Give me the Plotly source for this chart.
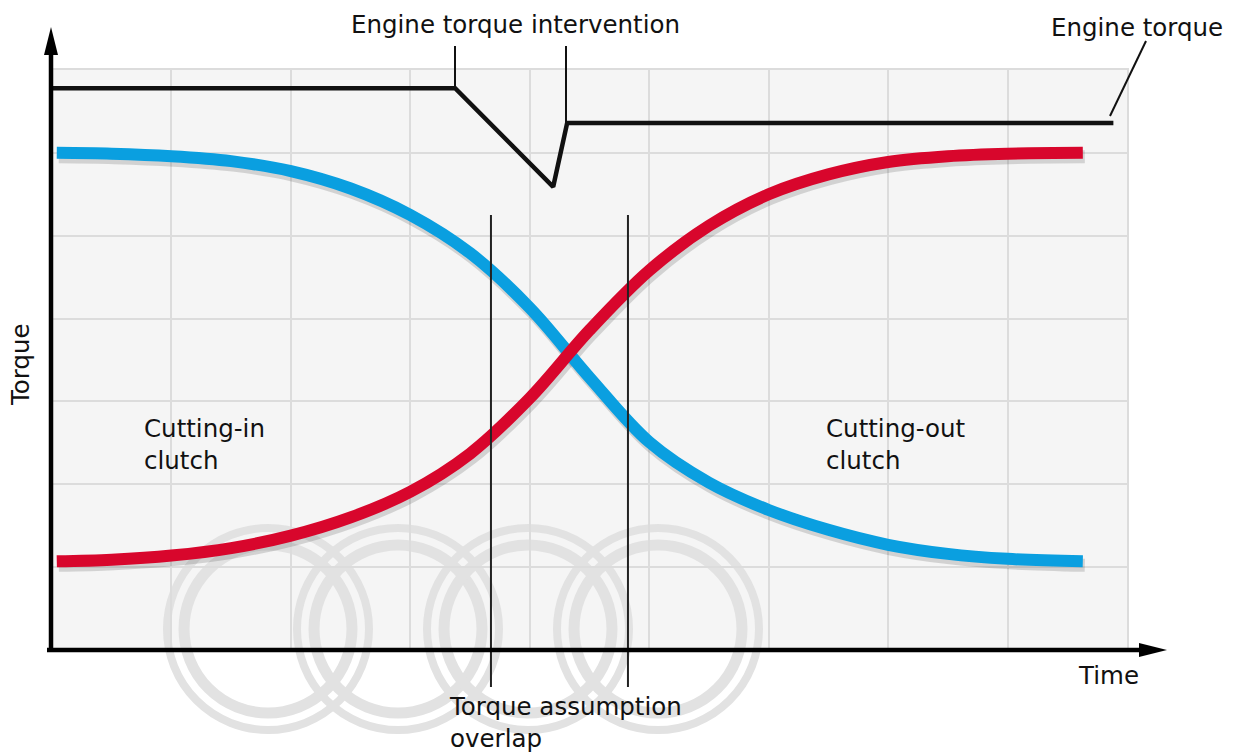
import plotly.graph_objects as go

# Time axis in grid units (9 columns), torque in grid units (7 rows)
time = [0.04, 0.5, 1.0, 1.5, 2.0, 2.5, 3.0, 3.5, 4.0, 4.5, 5.0,
        5.5, 6.0, 6.5, 7.0, 7.5, 8.0, 8.63]
cutting_in = [6.00, 5.99, 5.96, 5.90, 5.78, 5.57, 5.25, 4.79, 4.13, 3.29, 2.51,
              2.02, 1.69, 1.45, 1.27, 1.16, 1.10, 1.07]
cutting_out = [1.07, 1.09, 1.14, 1.23, 1.38, 1.60, 1.91, 2.37, 3.04, 3.86, 4.58,
               5.12, 5.50, 5.74, 5.89, 5.96, 5.99, 6.00]

engine_time = [0.0, 3.375, 4.196, 4.313, 8.886]
engine_torque = [6.78, 6.78, 5.59, 6.36, 6.36]

overlap_start = 3.675
overlap_end = 4.822

X_RANGE = [0, 9]
Y_RANGE = [0, 7]

FONT = "DejaVu Sans"
FS = 24.5
BLUE = "#0a9fe0"
RED = "#d8062c"

# plot area in pixels
L, R, T, B = 52, 110, 70, 102
W, H = 1237, 752
PW, PH = W - L - R, H - T - B


def px(x):
    return (x - L) / PW


def py(y):
    return (H - B - y) / PH


# shadow offset in data units (2 px right, 4 px down)
sdx = 2 * (X_RANGE[1] - X_RANGE[0]) / PW
sdy = -4 * (Y_RANGE[1] - Y_RANGE[0]) / PH

fig = go.Figure()

for series in [cutting_out, cutting_in]:
    fig.add_trace(go.Scatter(
        x=[t + sdx for t in time], y=[v + sdy for v in series],
        mode="lines", line=dict(color="rgba(40,40,40,0.17)", width=13, shape="spline"),
        hoverinfo="skip"))

fig.add_trace(go.Scatter(x=time, y=cutting_in, mode="lines",
                         line=dict(color=BLUE, width=12, shape="spline"),
                         name="Cutting-in clutch"))
fig.add_trace(go.Scatter(x=time, y=cutting_out, mode="lines",
                         line=dict(color=RED, width=12, shape="spline"),
                         name="Cutting-out clutch"))
fig.add_trace(go.Scatter(x=engine_time, y=engine_torque, mode="lines",
                         line=dict(color="#111111", width=4.5),
                         name="Engine torque"))

shapes = []

# watermark rings
for cx in [268, 398, 528, 658]:
    cy = 629
    for r, w in [(101, 8), (84, 11)]:
        shapes.append(dict(type="circle", xref="paper", yref="paper", layer="below",
                           x0=px(cx - r), x1=px(cx + r), y0=py(cy + r), y1=py(cy - r),
                           line=dict(color="#e2e2e2", width=w)))

# torque assumption overlap markers
for t in [overlap_start, overlap_end]:
    shapes.append(dict(type="line", xref="x", yref="paper", x0=t, x1=t,
                       y0=py(687), y1=py(215), line=dict(color="#222222", width=2)))

# leader lines
for (x0, y0, x1, y1) in [(455, 46, 455, 88), (566, 46, 566, 123), (1146, 41, 1110, 116)]:
    shapes.append(dict(type="line", xref="paper", yref="paper",
                       x0=px(x0), y0=py(y0), x1=px(x1), y1=py(y1),
                       line=dict(color="#111111", width=2)))

# axes with arrowheads
shapes.append(dict(type="line", xref="paper", yref="paper", x0=px(51), x1=px(51),
                   y0=py(652), y1=py(50), line=dict(color="#000000", width=4.5)))
shapes.append(dict(type="line", xref="paper", yref="paper", x0=px(47), x1=px(1143),
                   y0=py(650), y1=py(650), line=dict(color="#000000", width=4.5)))
shapes.append(dict(type="path", xref="paper", yref="paper", fillcolor="#000000",
                   line=dict(width=0),
                   path=f"M{px(51)},{py(27)} L{px(44)},{py(55)} L{px(58)},{py(55)} Z"))
shapes.append(dict(type="path", xref="paper", yref="paper", fillcolor="#000000",
                   line=dict(width=0),
                   path=f"M{px(1167)},{py(650)} L{px(1139)},{py(643)} L{px(1139)},{py(657)} Z"))

fig.update_layout(shapes=shapes)

txt = dict(family=FONT, size=FS, color="#111111")
annotations = [
    dict(text="Engine torque intervention", x=px(515), y=py(25), xanchor="center", yanchor="middle"),
    dict(text="Engine torque", x=px(1137), y=py(27), xanchor="center", yanchor="middle"),
    dict(text="Torque", x=px(20), y=py(365), xanchor="center", yanchor="middle", textangle=-90),
    dict(text="Cutting-in<br>clutch", x=px(142), y=py(444), xanchor="left", yanchor="middle", align="left"),
    dict(text="Cutting-out<br>clutch", x=px(824), y=py(444), xanchor="left", yanchor="middle", align="left"),
    dict(text="Time", x=px(1076), y=py(675), xanchor="left", yanchor="middle"),
    dict(text="Torque assumption<br>overlap", x=px(447), y=py(722), xanchor="left", yanchor="middle", align="left"),
]
for a in annotations:
    a.update(xref="paper", yref="paper", showarrow=False, font=txt)
fig.update_layout(annotations=annotations)

axis_common = dict(showgrid=True, gridcolor="#dcdcdc", gridwidth=2, dtick=1, tick0=0,
                   showticklabels=False, ticks="", zeroline=False, showline=True,
                   linecolor="#dcdcdc", linewidth=2, mirror=True, fixedrange=True)
fig.update_xaxes(range=X_RANGE, **axis_common)
fig.update_yaxes(range=Y_RANGE, **axis_common)

fig.update_layout(width=W, height=H, margin=dict(l=L, r=R, t=T, b=B),
                  paper_bgcolor="white", plot_bgcolor="#f5f5f5", showlegend=False,
                  font=dict(family=FONT))

fig.write_html("out.html")
